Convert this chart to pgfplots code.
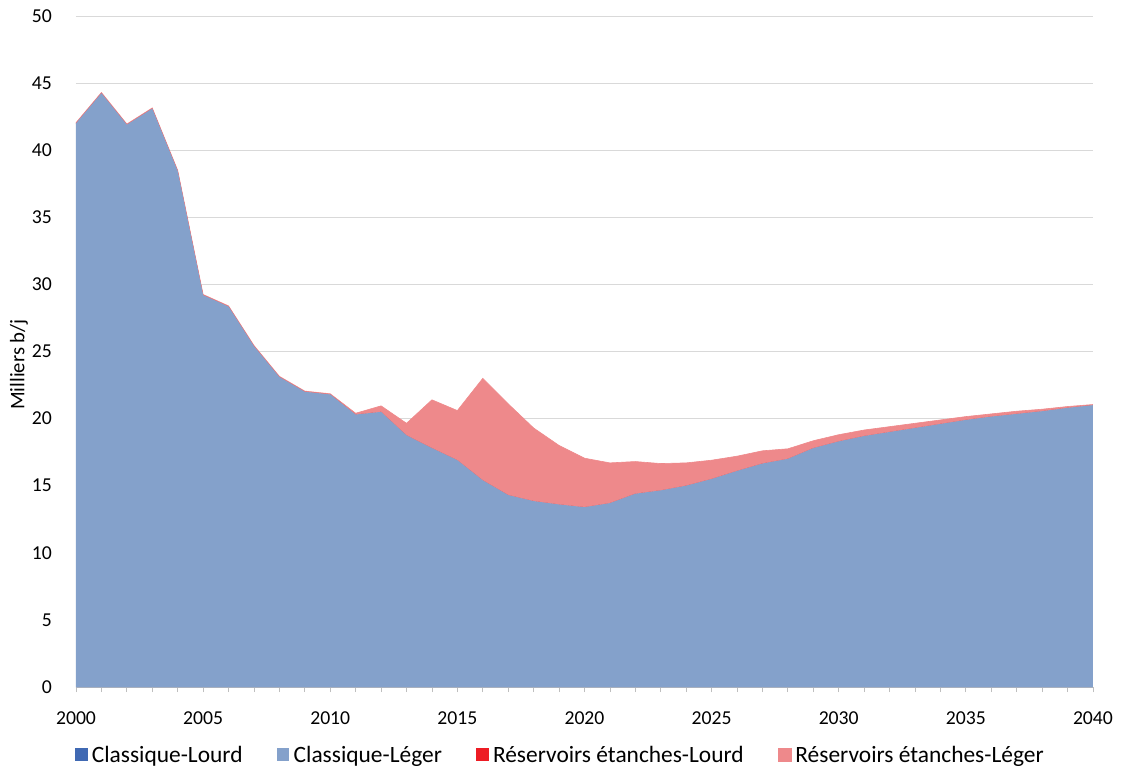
\documentclass[border=0pt]{standalone}
\usepackage{pgfplots}
\usepackage{pgfplotstable}
\usepackage{fontspec}
\setmainfont{Carlito}
\pgfplotsset{compat=1.18}
\definecolor{cLourd}{HTML}{4069B3}
\definecolor{cLeger}{HTML}{84A1CB}
\definecolor{rLourd}{HTML}{ED1C24}
\definecolor{rLeger}{HTML}{EE898B}
\definecolor{gridc}{HTML}{D9D9D9}
\definecolor{tickc}{HTML}{BFBFBF}
\pgfplotstableread{
year cl cg rl rg
2000 0 42.0 0 0.05
2001 0 44.25 0 0.05
2002 0 41.9 0 0.05
2003 0 43.1 0 0.05
2004 0 38.45 0 0.05
2005 0 29.2 0 0.05
2006 0 28.35 0 0.05
2007 0 25.4 0 0.05
2008 0 23.1 0 0.05
2009 0 22.0 0 0.05
2010 0 21.8 0 0.05
2011 0 20.3 0 0.1
2012 0 20.5 0 0.45
2013 0 18.75 0 0.9
2014 0 17.8 0 3.6
2015 0 16.9 0 3.7
2016 0 15.4 0 7.6
2017 0 14.3 0 6.8
2018 0 13.85 0 5.45
2019 0 13.6 0 4.4
2020 0 13.4 0 3.65
2021 0 13.7 0 3.0
2022 0 14.4 0 2.4
2023 0 14.65 0 2.0
2024 0 15.0 0 1.7
2025 0 15.5 0 1.4
2026 0 16.1 0 1.1
2027 0 16.65 0 0.95
2028 0 17.0 0 0.75
2029 0 17.8 0 0.55
2030 0 18.3 0 0.5
2031 0 18.7 0 0.45
2032 0 19.0 0 0.4
2033 0 19.3 0 0.35
2034 0 19.6 0 0.3
2035 0 19.9 0 0.25
2036 0 20.15 0 0.2
2037 0 20.35 0 0.2
2038 0 20.55 0 0.15
2039 0 20.8 0 0.1
2040 0 21.0 0 0.05
}\datatable
\begin{document}
\begin{tikzpicture}
\path[use as bounding box] (-76pt,-84pt) rectangle (1045pt,687pt);
\begin{axis}[
  scale only axis,
  width=1017pt, height=671pt,
  xmin=2000, xmax=2040, ymin=0, ymax=50,
  stack plots=y,
  xtick={2000,2005,...,2040},
  minor xtick={2000,2001,...,2040},
  ytick={0,5,...,50},
  axis x line*=bottom,
  axis y line*=left,
  y axis line style={draw=none},
  x axis line style={draw=tickc, line width=0.8pt},
  tick align=outside,
  major tick length=5pt,
  minor tick length=5pt,
  xtick style={draw=tickc, line width=0.8pt},
  minor x tick style={draw=tickc, line width=0.8pt},
  ytick style={draw=none},
  ymajorgrids,
  major grid style={draw=gridc, line width=0.8pt},
  /pgf/number format/1000 sep={},
  /pgf/number format/assume math mode=true,
  ticklabel style={font=\fontsize{19.7}{22}\selectfont, text=black},
  xticklabel style={anchor=center, inner sep=0pt, yshift=-26pt},
  yticklabel style={anchor=east, inner sep=0pt, xshift=-19pt},
  ylabel={Milliers b/j},
  ylabel style={font=\fontsize{20.7}{23}\selectfont, at={(axis description cs:-0.056,0.4806)}, anchor=center, rotate=0},
  legend columns=-1,
  legend style={draw=none, fill=none, at={(axis description cs:0.4774,-0.1013)}, anchor=center,
    font=\fontsize{23.4}{26}\selectfont, inner sep=0pt,
    /tikz/every even column/.append style={column sep=30pt},
    nodes={inner sep=4.3pt}},
  legend image code/.code={\fill[#1] (0pt,-6.5pt) rectangle (12.5pt,6.5pt);},
]
\addplot[fill=cLourd, draw=none] table[x=year, y=cl] {\datatable} \closedcycle;
\addlegendentry{Classique-Lourd}
\addplot[fill=cLeger, draw=none] table[x=year, y=cg] {\datatable} \closedcycle;
\addlegendentry{Classique-Léger}
\addplot[fill=rLourd, draw=none] table[x=year, y=rl] {\datatable} \closedcycle;
\addlegendentry{Réservoirs étanches-Lourd}
\addplot[fill=rLeger, draw=rLeger, line width=0.6pt] table[x=year, y=rg] {\datatable} \closedcycle;
\addlegendentry{Réservoirs étanches-Léger}
\end{axis}
\end{tikzpicture}
\end{document}
